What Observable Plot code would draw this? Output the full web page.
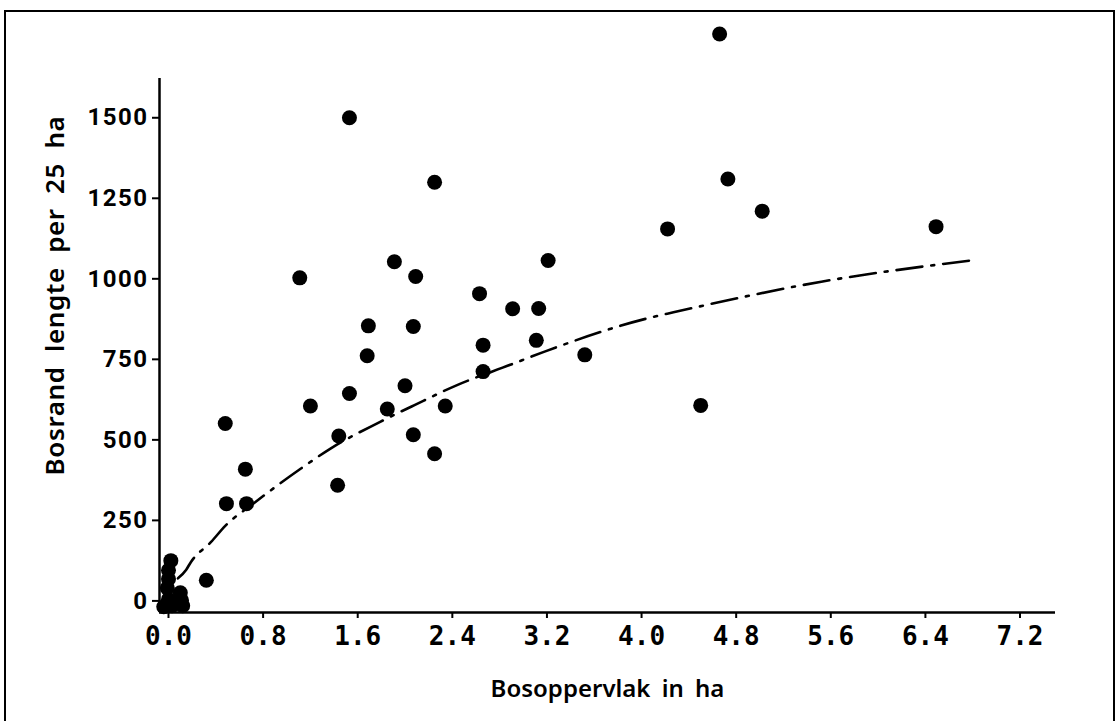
<!DOCTYPE html>
<html>
<head>
<meta charset="utf-8">
<script src="https://cdn.jsdelivr.net/npm/d3@7"></script>
<script src="https://cdn.jsdelivr.net/npm/@observablehq/plot@0.6"></script>
<style>
  html, body { margin: 0; padding: 0; background: #fff; }
  #wrap { position: relative; width: 1119px; height: 721px; overflow: hidden; }
  #border { position: absolute; left: 4px; top: 10px; width: 1111px; height: 730px; border: 2px solid #000; box-sizing: border-box; pointer-events: none; }
  #chart svg { display: block; }
  g[aria-label="y-axis tick label"] text { font-family: "Roboto", "Open Sans", sans-serif !important; font-weight: 700; letter-spacing: 1.5px; }
  g[aria-label="x-axis tick label"] text { font-family: "DejaVu Sans Mono", monospace !important; font-weight: 700; }
  .title text { letter-spacing: 0.4px; }
  .ytitle text { word-spacing: 7px; letter-spacing: 0.6px; }
  .xtitle text { word-spacing: 5px; }
</style>
</head>
<body>
<div id="wrap">
  <div id="chart"></div>
  <div id="border"></div>
</div>
<script>
// Observations: forest area (ha) vs forest edge length per 25 ha
const areaHa = [4.66, 1.53, 2.25, 4.73, 5.02, 4.22, 6.49, 1.11, 1.91, 2.09, 3.21, 2.63, 2.91, 3.13,
  1.69, 2.07, 1.68, 2.66, 3.11, 3.52, 2.66, 2.00, 1.53, 1.20, 1.85, 2.34, 4.50, 0.48, 1.44, 2.07,
  2.25, 0.65, 0.49, 0.66, 1.43, 0.32,
  0.02, 0.00, 0.00, -0.01, 0.10, 0.11, 0.00, 0.03, 0.12, -0.04];
const edgeLength = [1760, 1500, 1300, 1310, 1210, 1155, 1162, 1003, 1053, 1007, 1057, 954, 907, 908,
  854, 852, 761, 794, 809, 764, 712, 668, 644, 605, 596, 605, 607, 551, 512, 516,
  457, 409, 302, 302, 359, 64,
  125, 95, 68, 40, 25, 2, 5, -15, -15, -18];

// Fitted curve
const curveX = [0.08, 0.15, 0.19, 0.36, 0.48, 0.71, 1.12, 1.37, 1.79, 2.08, 2.44, 2.89, 3.18, 4.08, 4.27, 5.52, 6.83];
const curveY = [70, 97, 121, 183, 233, 300, 411, 473, 556, 608, 670, 733, 774, 880, 896, 991, 1059];

// Axes
const xTicks = [0, 0.8, 1.6, 2.4, 3.2, 4.0, 4.8, 5.6, 6.4, 7.2];
const yTicks = [0, 250, 500, 750, 1000, 1250, 1500];
const xDomain = [-0.076, 7.5];
const yDomain = [-36, 1802];
const yAxisTop = 1622;
const xTitle = "Bosoppervlak in ha";
const yTitle = "Bosrand lengte per 25 ha";

const points = areaHa.map((x, i) => ({x, y: edgeLength[i]}));
const curve = curveX.map((x, i) => ({x, y: curveY[i]}));

const titleFont = {fontFamily: "Noto Sans, Open Sans, sans-serif", fontWeight: 600};

const chart = Plot.plot({
  width: 1119,
  height: 721,
  marginLeft: 159,
  marginRight: 64,
  marginTop: 20,
  marginBottom: 109,
  style: {background: "transparent", color: "#000"},
  x: {domain: xDomain},
  y: {domain: yDomain},
  marks: [
    Plot.axisX({ticks: xTicks, tickSize: 6, tickPadding: 8, strokeWidth: 2, tickFormat: d => d.toFixed(1), label: null,
      fontWeight: "bold", fontSize: 26}),
    Plot.axisY({ticks: yTicks, tickSize: 7, tickPadding: 4, strokeWidth: 2, tickFormat: d => String(d), label: null,
      fontWeight: "bold", fontSize: 24}),
    Plot.ruleY([yDomain[0]], {x1: xDomain[0], x2: xDomain[1], stroke: "#000", strokeWidth: 2.5}),
    Plot.ruleX([xDomain[0]], {y1: yDomain[0], y2: yAxisTop, stroke: "#000", strokeWidth: 2.5}),
    Plot.line(curve, {x: "x", y: "y", curve: "monotone-x", stroke: "#000", strokeWidth: 2.6, strokeDasharray: "26,9,3,9"}),
    Plot.dot(points, {x: "x", y: "y", r: 7.5, fill: "#000", stroke: "none"}),
    Plot.text([xTitle], {frameAnchor: "bottom", dy: 84, text: d => d, fill: "#000", className: "xtitle", fontSize: 24, ...titleFont}),
    Plot.text([yTitle], {frameAnchor: "left", textAnchor: "middle", rotate: -90, dx: -104, dy: -21, text: d => d, fill: "#000", className: "ytitle", fontSize: 26, ...titleFont})
  ]
});
document.getElementById("chart").appendChild(chart);
</script>
</body>
</html>
